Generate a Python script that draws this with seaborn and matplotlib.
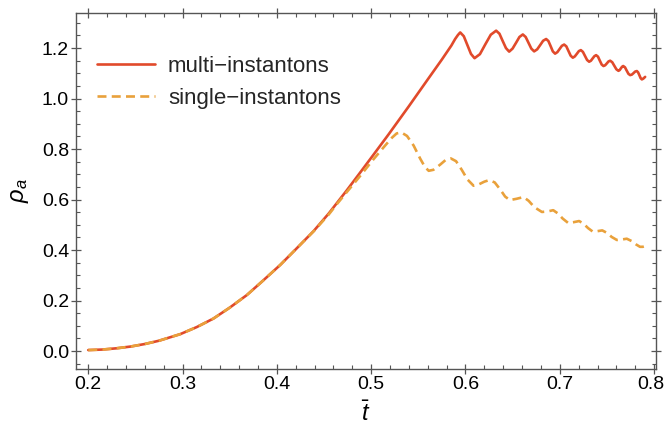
import matplotlib
matplotlib.use("Agg")
import matplotlib.pyplot as plt
from matplotlib.ticker import MultipleLocator, FormatStrFormatter
from matplotlib.transforms import ScaledTranslation
import numpy as np
import pandas as pd
import seaborn as sns

# multi-instantons
t_multi = [0.200, 0.215, 0.230, 0.245, 0.260, 0.275, 0.2975, 0.315, 0.3328, 0.350,
           0.3682, 0.385, 0.4035, 0.420, 0.4389, 0.455, 0.4742, 0.4875, 0.5025, 0.5184,
           0.540, 0.560, 0.575, 0.585, 0.589, 0.592, 0.5944,
           0.5982, 0.602, 0.6058, 0.6096,
           0.6153, 0.6211, 0.6268, 0.6325,
           0.6360, 0.6394, 0.6429, 0.6463,
           0.6499, 0.6536, 0.6572, 0.6608,
           0.6638, 0.6668, 0.6698, 0.6728,
           0.6760, 0.6792, 0.6823, 0.6855,
           0.6879, 0.6903, 0.6926, 0.6950,
           0.6974, 0.6998, 0.7022, 0.7046,
           0.7069, 0.7092, 0.7115, 0.7138,
           0.7159, 0.7181, 0.7202, 0.7223,
           0.7245, 0.7267, 0.7289, 0.7311,
           0.7330, 0.7348, 0.7367, 0.7385,
           0.7405, 0.7424, 0.7444, 0.7463,
           0.7481, 0.7499, 0.7516, 0.7534,
           0.7556, 0.7578, 0.7600, 0.7622,
           0.7635, 0.7647, 0.7660, 0.7672,
           0.7691, 0.7709, 0.7728, 0.7746,
           0.7764, 0.7782, 0.7799, 0.7817,
           0.7830, 0.7844, 0.7857, 0.7870,
           0.7885, 0.7905]
rho_multi = [0.004, 0.006, 0.011, 0.018, 0.028, 0.041, 0.067, 0.095, 0.129, 0.172,
             0.222, 0.278, 0.341, 0.403, 0.475, 0.545, 0.637, 0.703, 0.778, 0.858,
             0.970, 1.076, 1.155, 1.210, 1.236, 1.252, 1.262,
             1.247, 1.212, 1.177, 1.160,
             1.176, 1.2155, 1.253, 1.269,
             1.257, 1.2285, 1.200, 1.186,
             1.198, 1.221, 1.244, 1.254,
             1.244, 1.221, 1.198, 1.187,
             1.195, 1.212, 1.229, 1.236,
             1.228, 1.2075, 1.187, 1.178,
             1.184, 1.1965, 1.209, 1.214,
             1.207, 1.1885, 1.170, 1.162,
             1.167, 1.1775, 1.188, 1.192,
             1.185, 1.169, 1.153, 1.146,
             1.150, 1.159, 1.168, 1.172,
             1.166, 1.1505, 1.135, 1.129,
             1.132, 1.1395, 1.147, 1.150,
             1.144, 1.130, 1.116, 1.110,
             1.113, 1.1195, 1.126, 1.129,
             1.124, 1.111, 1.098, 1.093,
             1.095, 1.101, 1.107, 1.109,
             1.104, 1.0925, 1.081, 1.076,
             1.079, 1.086]

# single-instantons
t_single = [0.200, 0.215, 0.230, 0.245, 0.260, 0.275, 0.2975, 0.315, 0.3328, 0.350,
            0.3682, 0.385, 0.4035, 0.420, 0.4389, 0.455, 0.4636, 0.4742, 0.4875, 0.5025,
            0.515, 0.522, 0.527, 0.532, 0.538, 0.545, 0.552, 0.557, 0.561,
            0.566, 0.573, 0.579, 0.5845, 0.590, 0.596, 0.602, 0.6085,
            0.614, 0.620, 0.625, 0.631, 0.637, 0.642, 0.647,
            0.654, 0.6615, 0.667, 0.673, 0.681, 0.687, 0.693,
            0.698, 0.703, 0.709, 0.714, 0.7205, 0.725, 0.730, 0.735,
            0.740, 0.745, 0.750, 0.755, 0.7605, 0.766, 0.771,
            0.776, 0.781, 0.785, 0.788, 0.7905]
rho_single = [0.004, 0.006, 0.011, 0.018, 0.028, 0.041, 0.067, 0.095, 0.129, 0.172,
              0.222, 0.278, 0.341, 0.403, 0.474, 0.541, 0.582, 0.630, 0.690, 0.760,
              0.815, 0.845, 0.862, 0.866, 0.852, 0.814, 0.762, 0.729, 0.714,
              0.718, 0.738, 0.757, 0.763, 0.752, 0.718, 0.680, 0.655,
              0.660, 0.671, 0.677, 0.668, 0.639, 0.612, 0.598,
              0.603, 0.610, 0.595, 0.570, 0.551, 0.553, 0.558,
              0.545, 0.525, 0.507, 0.510, 0.515, 0.505, 0.487, 0.473,
              0.475, 0.478, 0.468, 0.452, 0.440, 0.442, 0.445,
              0.436, 0.422, 0.413, 0.413, 0.416]

x_ticks = [0.2, 0.3, 0.4, 0.5, 0.6, 0.7, 0.8]
y_ticks = [0.0, 0.2, 0.4, 0.6, 0.8, 1.0, 1.2]

RED = "#E14A2B"
ORANGE = "#E9A13B"
FRAME = "#555555"

sns.set_theme(style="ticks")
plt.rcParams['font.family'] = ['Liberation Sans', 'DejaVu Sans']
plt.rcParams['mathtext.fontset'] = 'custom'
plt.rcParams['mathtext.it'] = 'Liberation Sans:italic'
plt.rcParams['mathtext.rm'] = 'Liberation Sans'

df_multi = pd.DataFrame({"t": t_multi, "rho": rho_multi})
df_single = pd.DataFrame({"t": t_single, "rho": rho_single})

fig = plt.figure(figsize=(6.66, 4.29), dpi=100)
ax = fig.add_axes([76 / 666, 1 - 369 / 429, 580 / 666, 356 / 429])

sns.lineplot(data=df_multi, x="t", y="rho", ax=ax, color=RED, lw=1.9,
             estimator=None, sort=False, label="multi\u2212instantons")
sns.lineplot(data=df_single, x="t", y="rho", ax=ax, color=ORANGE, lw=1.9,
             estimator=None, sort=False, linestyle=(0, (3.4, 2.0)),
             label="single\u2212instantons")

ax.set_xlim(0.187, 0.802)
ax.set_ylim(-0.071, 1.339)
ax.set_xticks(x_ticks)
ax.set_yticks(y_ticks)
ax.xaxis.set_major_formatter(FormatStrFormatter('%.1f'))
ax.yaxis.set_major_formatter(FormatStrFormatter('%.1f'))
ax.xaxis.set_minor_locator(MultipleLocator(0.02))
ax.yaxis.set_minor_locator(MultipleLocator(0.05))

ax.tick_params(which='major', direction='inout', length=7, width=0.9, color=FRAME,
               labelsize=14, labelcolor='black', top=True, right=True, pad=1.5)
ax.tick_params(which='minor', direction='in', length=3, width=0.8, color=FRAME,
               top=True, right=True)
for side in ax.spines.values():
    side.set_color(FRAME)
    side.set_linewidth(1.0)

# the last x label sits right at the figure edge, nudge it in a little
fig.canvas.draw()
last = ax.get_xticklabels()[-1]
last.set_transform(last.get_transform() + ScaledTranslation(-2.5 / 72, 0, fig.dpi_scale_trans))

ax.set_xlabel(r'$\bar{t}$', fontsize=17, labelpad=6, color='black')
ax.set_ylabel(r'$\rho_a$', fontsize=17, labelpad=8, color='black')

leg = ax.legend(loc='upper left', bbox_to_anchor=(0.036, 0.879), frameon=False,
                fontsize=16, handlelength=2.6, handletextpad=0.6,
                labelspacing=0.5, borderpad=0, borderaxespad=0)

fig.savefig("out.png", dpi=100)
